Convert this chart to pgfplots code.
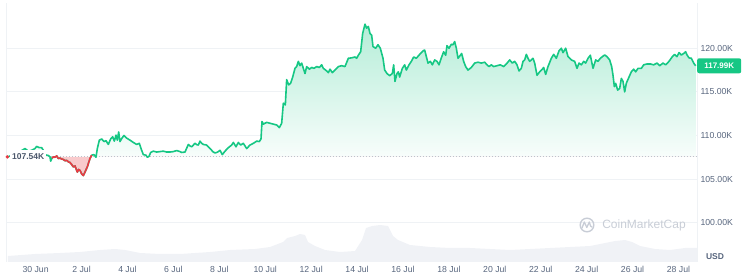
\documentclass[border=0pt]{standalone}
\usepackage{pgfplots}
\pgfplotsset{compat=1.18}
\usepackage{pgfplotstable}
\usepackage{fontspec}
\setmainfont{Liberation Sans}
\definecolor{cmcgreen}{RGB}{22,199,132}
\definecolor{cmcred}{RGB}{234,57,67}
\definecolor{cmctext}{RGB}{88,102,126}
\definecolor{cmcgrid}{RGB}{239,242,245}
\definecolor{cmcvol}{RGB}{240,242,246}
\definecolor{cmcwm}{RGB}{200,205,214}
\definecolor{cmcdot}{RGB}{190,194,204}

% t = horizontal position (1/3 px units), v = price in thousands USD
\pgfplotstableread{
t v
22 107.54
35 107.7
50 107.9
62 108.2
75 108.5
85 108.2
95 108.3
105 108.5
110 108.75
118 108.6
125 108.6
130 108.3
135 107.8
140 107.74
145 107.7
150 107.55
152 107.05
156 107.4
160 107.55
165 107.5
170 107.66
175 107.36
180 107.4
185 107.3
190 107.25
195 107.1
200 107.15
205 106.97
210 106.9
215 106.67
220 106.4
225 106.5
228 106.2
232 105.8
236 106.1
240 106.0
245 105.6
250 105.4
255 105.8
262 106.4
270 107.36
275 107.74
282 107.8
288 107.5
292 108.5
298 109.46
305 109.6
312 109.3
318 109.4
325 108.97
332 109.6
338 109.85
343 109.35
348 110.04
352 109.46
356 110.4
360 109.3
366 109.7
372 110.0
380 109.7
390 109.46
400 109.2
410 108.97
418 109.1
425 108.3
430 107.8
438 107.74
442 107.5
447 107.6
452 108.05
460 108.2
470 108.1
480 108.15
490 108.2
500 108.1
510 108.1
520 108.15
530 108.27
540 108.15
545 108.05
555 108.1
565 108.97
570 108.8
575 108.7
585 109.1
590 108.95
595 108.9
600 109.35
605 109.1
610 108.97
620 108.9
630 108.5
640 108.1
645 108.0
650 108.05
655 108.15
660 108.3
667 107.8
675 108.2
685 108.6
695 108.9
700 109.2
708 108.7
715 109.2
722 108.9
730 109.1
740 108.5
750 108.9
760 109.1
770 109.35
778 109.3
783 109.6
786 111.6
790 111.3
800 111.5
815 111.35
830 111.2
838 110.9
845 111.4
850 113.7
856 113.5
860 116.4
866 115.8
872 116.0
878 116.7
885 117.7
890 117.9
895 118.5
900 118.0
905 118.3
910 117.7
915 117.1
920 117.9
928 117.6
935 117.8
942 117.7
950 117.9
958 117.8
965 118.1
970 117.7
980 117.4
985 117.2
990 117.6
997 117.2
1005 117.5
1015 117.9
1025 118.0
1035 117.9
1045 118.85
1055 118.9
1065 119.0
1070 118.85
1075 119.2
1082 119.6
1088 121.7
1095 122.76
1100 122.3
1105 122.5
1110 121.7
1115 121.5
1119 120.2
1127 120.0
1134 120.4
1141 120.0
1149 118.85
1154 117.5
1161 117.1
1169 116.86
1177 117.1
1181 118.1
1185 116.2
1191 117.1
1195 117.3
1199 116.7
1207 117.7
1214 118.1
1219 117.5
1227 118.1
1234 118.5
1241 119.0
1249 118.85
1259 119.3
1269 119.7
1274 119.8
1279 119.04
1284 118.3
1291 118.5
1297 118.1
1304 118.66
1311 118.5
1317 118.1
1324 118.9
1331 119.6
1337 119.2
1341 120.3
1347 120.0
1354 120.46
1359 120.4
1364 120.77
1369 120.0
1374 118.85
1381 119.2
1385 119.4
1391 118.5
1397 117.9
1404 117.5
1414 117.8
1424 118.3
1434 118.4
1444 118.3
1454 118.4
1461 118.1
1467 117.9
1474 118.1
1481 117.9
1491 118.0
1501 118.1
1511 117.9
1519 118.2
1529 118.66
1537 118.3
1544 118.5
1551 118.1
1557 117.4
1564 117.7
1569 118.5
1574 118.66
1579 119.3
1584 118.85
1589 118.5
1594 118.66
1599 118.85
1604 118.3
1611 116.9
1619 117.3
1627 117.6
1631 117.8
1637 117.0
1644 117.9
1654 118.85
1661 119.3
1669 118.85
1677 119.7
1684 120.0
1689 119.5
1697 120.0
1704 119.04
1714 118.66
1724 118.5
1731 117.7
1737 118.3
1744 118.1
1751 118.5
1757 118.3
1764 118.85
1771 119.2
1779 117.7
1787 118.66
1794 118.5
1801 118.85
1807 119.04
1814 119.23
1821 119.04
1829 118.66
1835 117.9
1839 116.9
1843 115.6
1847 115.98
1853 115.2
1859 115.4
1864 116.55
1869 116.2
1874 115.0
1879 116.0
1887 116.7
1894 117.3
1901 117.6
1907 117.3
1914 117.7
1924 117.7
1931 118.1
1941 118.2
1951 118.2
1961 118.1
1971 118.3
1979 118.0
1989 118.3
1997 118.1
2007 118.5
2017 119.04
2024 119.3
2031 119.04
2037 119.5
2044 119.23
2051 119.4
2057 119.6
2061 119.23
2067 118.9
2074 118.85
2081 118.3
2087 117.99
}\price

% px = horizontal position (px), h = relative volume height
\pgfplotstableread{
px h
8 6
35 8
60 9
80 10
100 12
115 13
125 12
140 9
160 8
180 8
195 9
210 10
230 12
255 13
270 15
283 20
287 24
295 26
300 28
305 27
308 20
315 16
325 12
340 10
355 11
362 22
366 34
372 36
380 37
388 36
393 26
398 22
410 17
430 15
450 14
470 14
490 13
510 12
530 13
550 14
570 15
590 16
605 19
615 21
625 22
632 20
640 16
655 13
670 12
685 14
697 14
}\volume

\begin{document}
\begin{tikzpicture}
\path[use as bounding box] (0,0) rectangle (746bp,278bp);

% volume (background)
\begin{axis}[at={(6bp,16bp)}, anchor=south west, scale only axis,
  width=691bp, height=259bp, xmin=-1.289, xmax=28.806, ymin=0, ymax=259,
  hide axis]
\addplot[draw=none, fill=cmcvol] table[x expr=(\thisrow{px}-35.6)/22.96, y=h] {\volume} \closedcycle;
\end{axis}

% price
\begin{axis}[at={(6bp,16bp)}, anchor=south west, scale only axis,
  width=691bp, height=259bp,
  xmin=-1.289, xmax=28.806, ymin=95.49, ymax=125.19,
  clip=false,
  separate axis lines,
  x axis line style={draw=none},
  y axis line style={draw=cmcgrid, line width=0.8bp},
  xtick={0,2,...,28},
  xticklabels={30 Jun,2 Jul,4 Jul,6 Jul,8 Jul,10 Jul,12 Jul,14 Jul,16 Jul,18 Jul,20 Jul,22 Jul,24 Jul,26 Jul,28 Jul},
  ytick={100,105,110,115,120},
  yticklabels={100.00K,105.00K,110.00K,115.00K,120.00K},
  yticklabel pos=right,
  major tick length=0pt,
  tick style={draw=none},
  ymajorgrids,
  grid style={draw=cmcgrid, line width=0.8bp},
  ticklabel style={font=\fontsize{8.7bp}{10bp}\selectfont, text=cmctext},
  xticklabel style={yshift=-1bp},
]
\addplot[draw=none, top color=cmcgreen!32!white, bottom color=cmcgreen!3!white]
  table[x expr=(\thisrow{t}/3-35.6)/22.96, y expr={max(\thisrow{v},107.54)}] {\price}
  -- (axis cs:28.748,107.54) -- (axis cs:-1.231,107.54) -- cycle;
\addplot[draw=none, fill=cmcred!27!white]
  table[x expr=(\thisrow{t}/3-35.6)/22.96, y expr={min(\thisrow{v},107.54)}] {\price}
  -- (axis cs:28.748,107.54) -- (axis cs:-1.231,107.54) -- cycle;
\addplot[cmcdot, line width=1bp, dash pattern=on 1bp off 2bp] coordinates {(-1.289,107.54) (28.806,107.54)};
\addplot[cmcgreen, line width=1.6bp, line join=round]
  table[x expr=(\thisrow{t}/3-35.6)/22.96, y=v] {\price};
\addplot[cmcred, line width=1.6bp, line join=round, restrict x to domain=0.69:2.52]
  table[x expr=(\thisrow{t}/3-35.6)/22.96, y=v] {\price};
\addplot[only marks, mark=*, mark size=1.5bp, cmcred] coordinates {(-1.231,107.54)};

\node[anchor=west, fill=white, inner xsep=2bp, inner ysep=3.5bp,
  font=\bfseries\fontsize{8.5bp}{10bp}\selectfont, text=cmctext!85!black]
  at (axis cs:-1.289,107.54) [xshift=4bp] {107.54K};
\node[anchor=west, fill=cmcgreen, rounded corners=2bp, minimum width=44bp,
  minimum height=15bp, inner sep=0pt, text=white,
  font=\bfseries\fontsize{8bp}{9bp}\selectfont]
  at (axis cs:28.806,117.99) {117.99K};
\end{axis}

% USD label and watermark
\node[font=\bfseries\fontsize{8.5bp}{10bp}\selectfont, text=cmctext] at (715bp,21bp) {USD};
\draw[cmcwm, line width=1.4bp] (587bp,53bp) circle (6.8bp);
\draw[cmcwm, line width=1.3bp, line join=round, line cap=round]
  (582bp,50bp) -- (584.3bp,56bp) -- (586.8bp,50.5bp) -- (589.3bp,56bp) -- (590.5bp,52bp) -- (592bp,51bp);
\node[font=\fontsize{12bp}{14bp}\selectfont, text=cmcwm] at (644bp,53bp) {CoinMarketCap};
\end{tikzpicture}
\end{document}
